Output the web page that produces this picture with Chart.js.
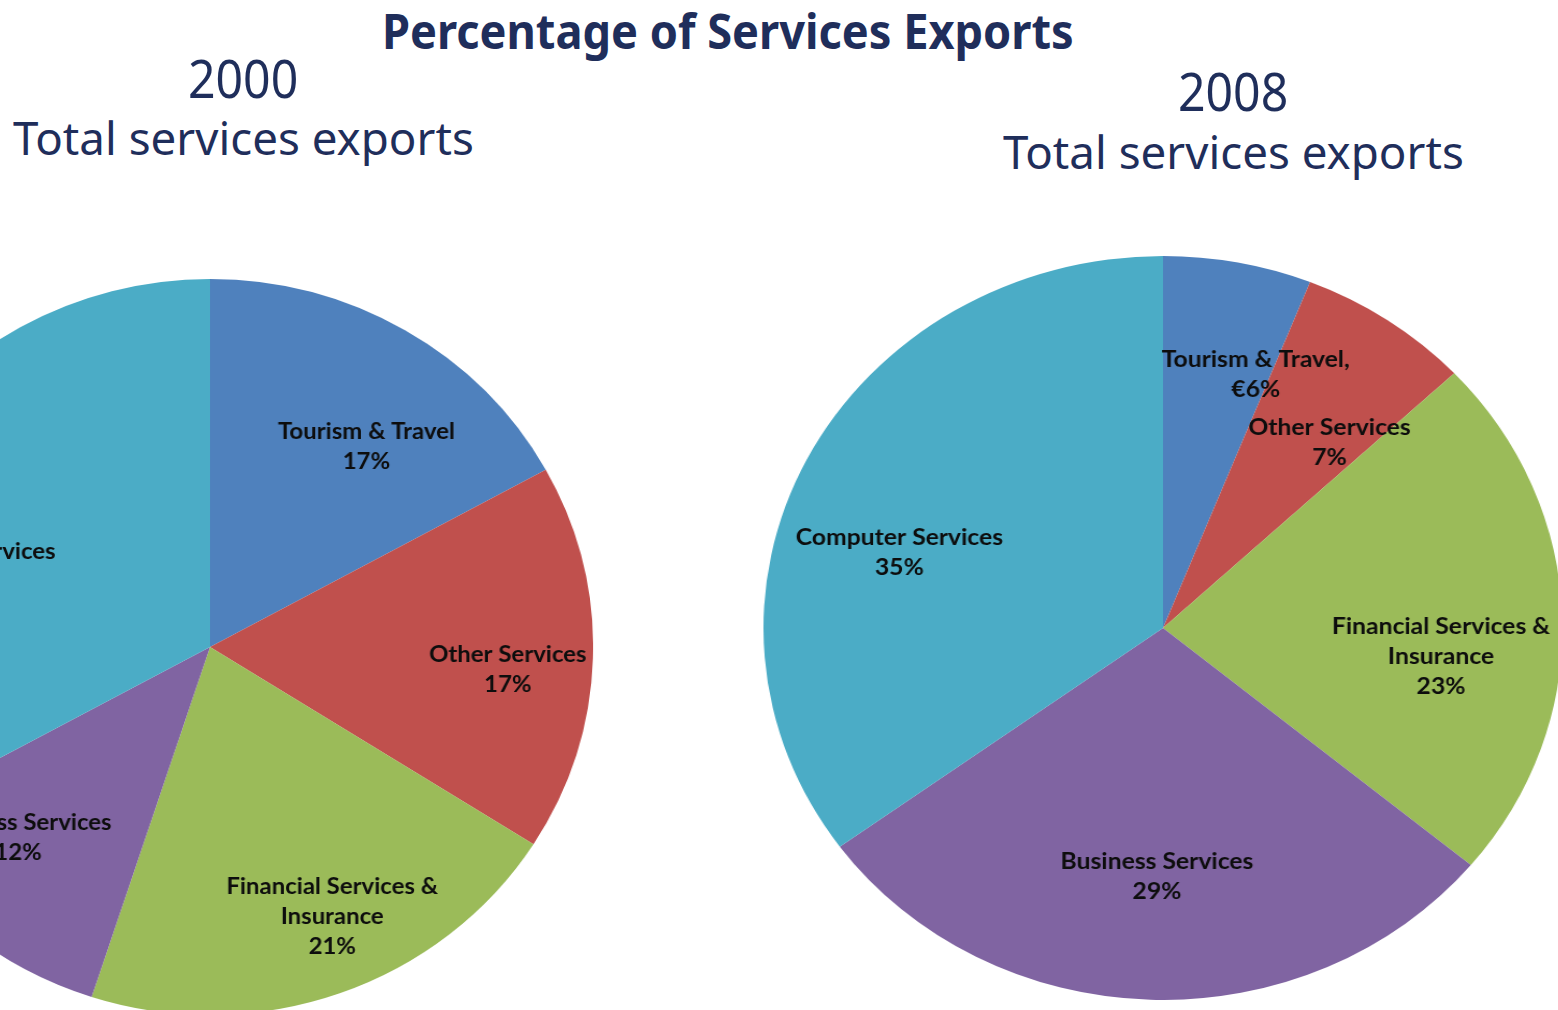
<!DOCTYPE html>
<html>
<head>
<meta charset="utf-8">
<title>Percentage of Services Exports</title>
<script src="https://cdn.jsdelivr.net/npm/chart.js@4.4.1/dist/chart.umd.min.js"></script>
<style>
  html, body { margin: 0; padding: 0; background: #fff; }
  body {
    width: 1558px; height: 1010px; position: relative; overflow: hidden;
    font-family: 'Noto Sans', sans-serif; color: #1f2e5b;
  }
  .t { position: absolute; white-space: nowrap; line-height: 1; transform-origin: 0 0; }
  .title { font-size: 49px; font-weight: bold; top: 6px; }
  .year { font-size: 53px; }
  .sub { font-size: 46px; }
  canvas { position: absolute; }
  #pie2000 { left: -158px; top: 279px; transform: scaleX(1.041); }
  #pie2008 { left: 791px; top: 256px; transform: scaleX(1.074); }
</style>
</head>
<body>
<div class="t title" data-cx="728" data-w="692">Percentage of Services Exports</div>
<div class="t year" style="top:51px" data-cx="243" data-w="110">2000</div>
<div class="t sub" style="top:114px" data-cx="243" data-w="461">Total services exports</div>
<div class="t year" style="top:64px" data-cx="1233" data-w="110">2008</div>
<div class="t sub" style="top:128px" data-cx="1233" data-w="461">Total services exports</div>

<canvas id="pie2000" width="736" height="736"></canvas>
<canvas id="pie2008" width="744" height="744"></canvas>

<script>
// slice order: tourism, other, financial, business, computer
const labels2000 = ['Tourism & Travel', 'Other Services', 'Financial Services &\nInsurance', 'Business Services', 'Computer Services'];
const values2000 = [17, 17, 21, 12, 33];

const labels2008 = ['Tourism & Travel,', 'Other Services', 'Financial Services &\nInsurance', 'Business Services', 'Computer Services'];
const values2008 = [6, 7, 23, 29, 35];
const prefix2008 = ['€', '', '', '', ''];

const sliceColors = ['#4f81bd', '#c0504d', '#9bbb59', '#8064a2', '#4bacc6'];

// squeeze/stretch each heading to its slot width
document.querySelectorAll('.t').forEach(el => {
  const w = +el.dataset.w;
  const s = w / el.offsetWidth;
  el.style.left = (+el.dataset.cx - w / 2) + 'px';
  el.style.transform = 'scaleX(' + s + ')';
});

// category name + percentage written inside each slice
const sliceLabels = {
  id: 'sliceLabels',
  afterDatasetsDraw(chart, args, opts) {
    const ctx = chart.ctx;
    const meta = chart.getDatasetMeta(0);
    const values = chart.data.datasets[0].data;
    ctx.save();
    ctx.font = opts.font;
    ctx.fillStyle = opts.color;
    ctx.textAlign = 'center';
    ctx.textBaseline = 'middle';
    meta.data.forEach((arc, i) => {
      const p = arc.getProps(['x', 'y', 'startAngle', 'endAngle', 'outerRadius'], true);
      const [dist, nudge] = opts.placement[i];
      const a = (p.startAngle + p.endAngle) / 2 + nudge * Math.PI / 180;
      const cx = p.x + Math.cos(a) * p.outerRadius * dist;
      const cy = p.y + Math.sin(a) * p.outerRadius * dist;
      const pre = opts.prefix ? opts.prefix[i] : '';
      const lines = chart.data.labels[i].split('\n').concat(pre + values[i] + '%');
      lines.forEach((line, k) => {
        ctx.fillText(line, cx, cy + (k - (lines.length - 1) / 2) * opts.lineHeight);
      });
    });
    ctx.restore();
  }
};

function makePie(id, labels, values, placement, prefix) {
  return new Chart(document.getElementById(id), {
    type: 'pie',
    data: {
      labels: labels,
      datasets: [{
        data: values,
        backgroundColor: sliceColors,
        borderWidth: 0,
        hoverOffset: 0,
        offset: 0
      }]
    },
    options: {
      responsive: false,
      animation: false,
      events: [],
      layout: { padding: 0 },
      plugins: {
        legend: { display: false },
        tooltip: { enabled: false },
        sliceLabels: {
          font: 'bold 23px Lato, sans-serif',
          color: '#0d0d0d',
          lineHeight: 30,
          placement: placement,
          prefix: prefix
        }
      }
    },
    plugins: [sliceLabels]
  });
}

// [fraction of radius, angle nudge in degrees] per slice
makePie('pie2000', labels2000, values2000,
  [[0.68, 6.3], [0.78, 2.8], [0.80, -3.7], [0.72, 4.5], [0.70, -12.5]]);
makePie('pie2008', labels2008, values2008,
  [[0.72, 8], [0.65, 5.7], [0.70, 8.1], [0.668, -0.5], [0.69, -10]], prefix2008);
</script>
</body>
</html>
